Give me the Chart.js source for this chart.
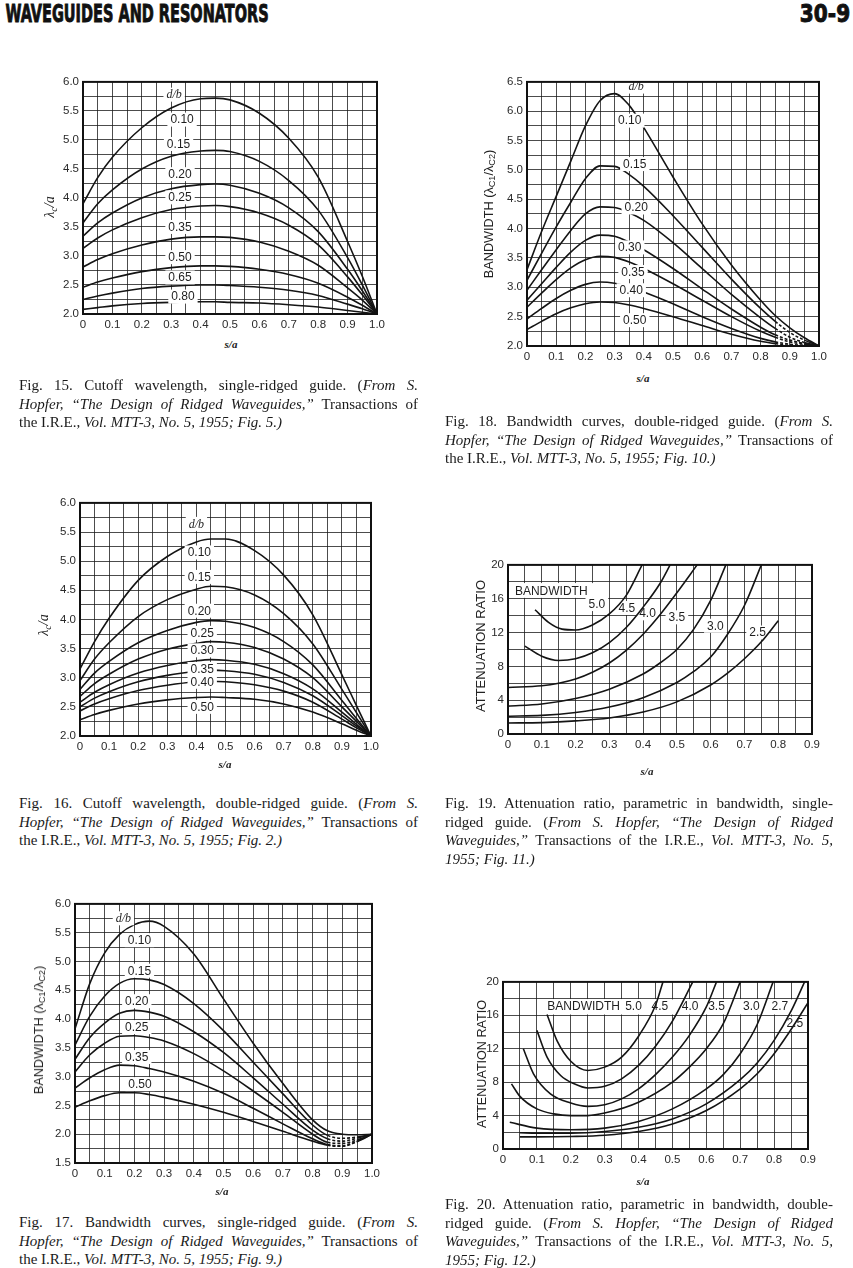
<!DOCTYPE html>
<html>
<head>
<meta charset="utf-8">
<title>Waveguides and resonators 30-9</title>
<script src="https://cdn.jsdelivr.net/npm/chart.js@4.4.1/dist/chart.umd.min.js"></script>
<style>
  html, body { margin: 0; padding: 0; background: #fff; }
  body { position: relative; width: 853px; height: 1268px; overflow: hidden; color: #1b1b1b; }
  canvas { position: absolute; }
  .t { position: absolute; left: 0; top: 0; white-space: nowrap; line-height: 1.2; }
  .hd { font: bold 25px "Liberation Sans Narrow", "DejaVu Sans Condensed", "Liberation Sans", sans-serif; -webkit-text-stroke: 0.9px #111; color: #111; }
  .yt { font: 12px "Liberation Sans", Arial, sans-serif; color: #222; }
  .lam { font: 14px "Liberation Serif", serif; color: #222; }
  .sa { font: italic bold 11px "Liberation Serif", serif; color: #222; }
  .cap { position: absolute; font: 15px/18.5px "Liberation Serif", "Times New Roman", serif; color: #1a1a1a; }
  .cap div { white-space: nowrap; }
  sub { font-size: 72%; vertical-align: -0.25em; line-height: 0; }
</style>
</head>
<body>
<div class="t hd" id="hdL">WAVEGUIDES AND RESONATORS</div>
<div class="t hd" id="hdR">30-9</div>

<canvas id="c15"></canvas>
<canvas id="c18"></canvas>
<canvas id="c16"></canvas>
<canvas id="c19"></canvas>
<canvas id="c17"></canvas>
<canvas id="c20"></canvas>

<div class="t lam" id="y15"><i>λ<sub>c</sub>/a</i></div>
<div class="t yt" id="y18">BANDWIDTH (λ<sub>C1</sub>/λ<sub>C2</sub>)</div>
<div class="t lam" id="y16"><i>λ<sub>c</sub>/a</i></div>
<div class="t yt" id="y19">ATTENUATION RATIO</div>
<div class="t yt" id="y17">BANDWIDTH (λ<sub>C1</sub>/λ<sub>C2</sub>)</div>
<div class="t yt" id="y20">ATTENUATION RATIO</div>
<div class="t sa" id="x15">s/a</div>
<div class="t sa" id="x18">s/a</div>
<div class="t sa" id="x16">s/a</div>
<div class="t sa" id="x19">s/a</div>
<div class="t sa" id="x17">s/a</div>
<div class="t sa" id="x20">s/a</div>

<div class="cap" style="left:19px;top:376px;width:399px">
  <div>Fig. 15. Cutoff wavelength, single-ridged guide. (<i>From S.</i></div>
  <div><i>Hopfer, “The Design of Ridged Waveguides,”</i> Transactions of</div>
  <div>the I.R.E., <i>Vol. MTT-3, No. 5, 1955; Fig. 5.)</i></div>
</div>
<div class="cap" style="left:445px;top:412px;width:388px">
  <div>Fig. 18. Bandwidth curves, double-ridged guide. (<i>From S.</i></div>
  <div><i>Hopfer, “The Design of Ridged Waveguides,”</i> Transactions of</div>
  <div>the I.R.E., <i>Vol. MTT-3, No. 5, 1955; Fig. 10.)</i></div>
</div>
<div class="cap" style="left:19px;top:794px;width:399px">
  <div>Fig. 16. Cutoff wavelength, double-ridged guide. (<i>From S.</i></div>
  <div><i>Hopfer, “The Design of Ridged Waveguides,”</i> Transactions of</div>
  <div>the I.R.E., <i>Vol. MTT-3, No. 5, 1955; Fig. 2.)</i></div>
</div>
<div class="cap" style="left:445px;top:794px;width:388px">
  <div>Fig. 19. Attenuation ratio, parametric in bandwidth, single-</div>
  <div>ridged guide. (<i>From S. Hopfer, “The Design of Ridged</i></div>
  <div><i>Waveguides,”</i> Transactions of the I.R.E., <i>Vol. MTT-3, No. 5,</i></div>
  <div><i>1955; Fig. 11.)</i></div>
</div>
<div class="cap" style="left:19px;top:1213px;width:399px">
  <div>Fig. 17. Bandwidth curves, single-ridged guide. (<i>From S.</i></div>
  <div><i>Hopfer, “The Design of Ridged Waveguides,”</i> Transactions of</div>
  <div>the I.R.E., <i>Vol. MTT-3, No. 5, 1955; Fig. 9.)</i></div>
</div>
<div class="cap" style="left:445px;top:1195px;width:388px">
  <div>Fig. 20. Attenuation ratio, parametric in bandwidth, double-</div>
  <div>ridged guide. (<i>From S. Hopfer, “The Design of Ridged</i></div>
  <div><i>Waveguides,”</i> Transactions of the I.R.E., <i>Vol. MTT-3, No. 5,</i></div>
  <div><i>1955; Fig. 12.)</i></div>
</div>

<script>
// ---------- data ----------
const sTicks10 = ['0', '0.1', '0.2', '0.3', '0.4', '0.5', '0.6', '0.7', '0.8', '0.9', '1.0'];
const sTicks9 = ['0', '0.1', '0.2', '0.3', '0.4', '0.5', '0.6', '0.7', '0.8', '0.9'];
const attTicks = ['0', '4', '8', '12', '16', '20'];

// Fig. 15: cutoff wavelength, single-ridged
const fig15X = [0, 0.05, 0.1, 0.2, 0.3, 0.4, 0.45, 0.5, 0.6, 0.7, 0.8, 0.9, 0.95, 1.0];
const fig15DB = ['0.10', '0.15', '0.20', '0.25', '0.35', '0.50', '0.65', '0.80'];
const fig15Y = [
  [3.90, 4.35, 4.70, 5.21, 5.55, 5.71, 5.72, 5.69, 5.46, 5.03, 4.36, 3.25, 2.65, 2.00],
  [3.57, 3.90, 4.14, 4.50, 4.72, 4.81, 4.82, 4.80, 4.63, 4.30, 3.79, 2.97, 2.50, 2.00],
  [3.34, 3.57, 3.74, 4.00, 4.16, 4.23, 4.24, 4.22, 4.08, 3.83, 3.42, 2.77, 2.40, 2.00],
  [3.13, 3.31, 3.45, 3.66, 3.80, 3.86, 3.87, 3.85, 3.74, 3.53, 3.19, 2.64, 2.33, 2.00],
  [2.81, 2.94, 3.04, 3.19, 3.29, 3.33, 3.33, 3.32, 3.24, 3.08, 2.84, 2.45, 2.24, 2.00],
  [2.46, 2.55, 2.62, 2.73, 2.80, 2.83, 2.83, 2.82, 2.77, 2.68, 2.53, 2.29, 2.15, 2.00],
  [2.25, 2.31, 2.36, 2.44, 2.48, 2.50, 2.50, 2.49, 2.46, 2.41, 2.32, 2.17, 2.09, 2.00],
  [2.08, 2.11, 2.14, 2.18, 2.20, 2.21, 2.21, 2.20, 2.19, 2.16, 2.12, 2.06, 2.03, 2.00]
];

// Fig. 18: bandwidth, double-ridged
const fig18X = [0, 0.05, 0.1, 0.15, 0.2, 0.25, 0.3, 0.35, 0.4, 0.5, 0.6, 0.7, 0.8, 0.85, 0.9, 0.95, 1.0];
const fig18DB = ['0.10', '0.15', '0.20', '0.30', '0.35', '0.40', '0.50'];
const fig18Y = [
  [3.30, 3.95, 4.55, 5.15, 5.75, 6.18, 6.30, 6.10, 5.72, 4.88, 4.08, 3.38, 2.78, 2.52, 2.31, 2.14, 2.00],
  [3.12, 3.58, 4.03, 4.45, 4.85, 5.07, 5.06, 4.92, 4.72, 4.22, 3.68, 3.14, 2.64, 2.42, 2.23, 2.10, 2.00],
  [2.95, 3.30, 3.64, 3.97, 4.25, 4.37, 4.36, 4.27, 4.14, 3.76, 3.32, 2.88, 2.48, 2.30, 2.15, 2.06, 2.00],
  [2.78, 3.06, 3.34, 3.60, 3.80, 3.89, 3.87, 3.77, 3.64, 3.32, 2.97, 2.63, 2.32, 2.19, 2.10, 2.04, 2.00],
  [2.66, 2.90, 3.13, 3.33, 3.47, 3.53, 3.51, 3.43, 3.32, 3.06, 2.78, 2.50, 2.25, 2.15, 2.07, 2.03, 2.00],
  [2.46, 2.64, 2.81, 2.95, 3.05, 3.09, 3.07, 3.01, 2.92, 2.72, 2.50, 2.30, 2.13, 2.07, 2.03, 2.01, 2.00],
  [2.28, 2.42, 2.55, 2.65, 2.72, 2.75, 2.74, 2.70, 2.64, 2.50, 2.35, 2.20, 2.08, 2.04, 2.01, 2.00, 2.00]
];

// Fig. 16: cutoff wavelength, double-ridged
const fig16X = [0, 0.05, 0.1, 0.2, 0.3, 0.4, 0.45, 0.5, 0.6, 0.7, 0.8, 0.9, 0.95, 1.0];
const fig16DB = ['0.10', '0.15', '0.20', '0.25', '0.30', '0.35', '0.40', '0.50'];
const fig16Y = [
  [3.15, 3.62, 4.02, 4.67, 5.08, 5.33, 5.38, 5.38, 5.18, 4.76, 4.08, 3.05, 2.52, 2.00],
  [2.95, 3.32, 3.60, 4.05, 4.34, 4.52, 4.57, 4.56, 4.42, 4.10, 3.58, 2.80, 2.40, 2.00],
  [2.80, 3.08, 3.28, 3.60, 3.81, 3.95, 3.98, 3.97, 3.86, 3.62, 3.22, 2.61, 2.30, 2.00],
  [2.68, 2.90, 3.06, 3.32, 3.49, 3.59, 3.62, 3.61, 3.52, 3.32, 3.00, 2.50, 2.25, 2.00],
  [2.58, 2.75, 2.88, 3.08, 3.21, 3.29, 3.31, 3.30, 3.23, 3.07, 2.81, 2.41, 2.20, 2.00],
  [2.50, 2.65, 2.76, 2.93, 3.04, 3.11, 3.13, 3.12, 3.06, 2.92, 2.69, 2.35, 2.17, 2.00],
  [2.43, 2.55, 2.64, 2.78, 2.87, 2.93, 2.94, 2.93, 2.88, 2.77, 2.58, 2.29, 2.14, 2.00],
  [2.28, 2.37, 2.44, 2.55, 2.62, 2.66, 2.67, 2.66, 2.63, 2.55, 2.41, 2.21, 2.10, 2.00]
];

// Fig. 19: attenuation ratio vs s/a, single-ridged (one curve per bandwidth)
const fig19BW = ['5.0', '4.5', '4.0', '3.5', '3.0', '2.5'];
const fig19X = [
  [0.08, 0.12, 0.16, 0.2, 0.25, 0.3, 0.35, 0.397],
  [0.05, 0.1, 0.15, 0.2, 0.25, 0.3, 0.35, 0.4, 0.45, 0.48],
  [0, 0.1, 0.15, 0.2, 0.25, 0.3, 0.35, 0.4, 0.45, 0.5, 0.56],
  [0, 0.1, 0.2, 0.3, 0.4, 0.45, 0.5, 0.55, 0.6, 0.645],
  [0, 0.1, 0.2, 0.3, 0.4, 0.5, 0.55, 0.6, 0.65, 0.7, 0.75],
  [0, 0.1, 0.2, 0.3, 0.4, 0.5, 0.6, 0.65, 0.7, 0.75, 0.8]
];
const fig19Y = [
  [14.7, 13.2, 12.4, 12.3, 12.9, 14.2, 16.4, 20.0],
  [10.4, 9.2, 8.7, 8.9, 9.6, 10.8, 12.6, 15.0, 17.8, 20.0],
  [5.5, 5.7, 6.0, 6.5, 7.3, 8.4, 9.9, 11.8, 14.1, 16.7, 20.0],
  [3.3, 3.55, 4.2, 5.3, 7.1, 8.4, 10.0, 12.4, 15.8, 20.0],
  [2.1, 2.2, 2.55, 3.2, 4.3, 6.1, 7.4, 9.1, 11.8, 15.2, 20.0],
  [1.3, 1.35, 1.55, 1.9, 2.6, 3.8, 5.8, 7.2, 8.9, 10.9, 13.4]
];

// Fig. 17: bandwidth, single-ridged
const fig17X = [0, 0.05, 0.1, 0.15, 0.2, 0.25, 0.3, 0.4, 0.5, 0.6, 0.7, 0.8, 0.85, 0.9, 0.95, 1.0];
const fig17DB = ['0.10', '0.15', '0.20', '0.25', '0.35', '0.50'];
const fig17Y = [
  [3.83, 4.62, 5.15, 5.47, 5.64, 5.70, 5.61, 5.13, 4.35, 3.58, 2.88, 2.25, 2.06, 2.00, 1.99, 2.00],
  [3.55, 4.05, 4.40, 4.62, 4.70, 4.68, 4.60, 4.27, 3.80, 3.25, 2.70, 2.16, 1.98, 1.93, 1.95, 2.00],
  [3.30, 3.68, 3.93, 4.10, 4.15, 4.12, 4.05, 3.78, 3.42, 2.98, 2.52, 2.07, 1.92, 1.88, 1.93, 2.00],
  [3.08, 3.38, 3.58, 3.70, 3.71, 3.68, 3.62, 3.40, 3.10, 2.75, 2.38, 2.00, 1.86, 1.84, 1.90, 2.00],
  [2.80, 2.98, 3.12, 3.20, 3.19, 3.14, 3.08, 2.92, 2.71, 2.45, 2.18, 1.92, 1.82, 1.80, 1.88, 2.00],
  [2.47, 2.58, 2.67, 2.72, 2.72, 2.69, 2.64, 2.52, 2.38, 2.22, 2.05, 1.88, 1.81, 1.79, 1.87, 2.00]
];

// Fig. 20: attenuation ratio vs s/a, double-ridged
const fig20BW = ['5.0', '4.5', '4.0', '3.5', '3.0', '2.7', '2.5'];
const fig20X = [
  [0.13, 0.16, 0.2, 0.25, 0.3, 0.35, 0.4, 0.45, 0.472],
  [0.1, 0.13, 0.17, 0.21, 0.25, 0.3, 0.35, 0.4, 0.45, 0.5, 0.56],
  [0.06, 0.09, 0.14, 0.2, 0.25, 0.3, 0.35, 0.4, 0.45, 0.5, 0.55, 0.6, 0.63],
  [0.025, 0.05, 0.1, 0.15, 0.2, 0.25, 0.3, 0.4, 0.5, 0.55, 0.6, 0.65, 0.7],
  [0.02, 0.1, 0.2, 0.3, 0.4, 0.5, 0.6, 0.65, 0.7, 0.75, 0.797],
  [0.05, 0.1, 0.2, 0.3, 0.4, 0.5, 0.6, 0.7, 0.75, 0.8, 0.85, 0.89],
  [0.05, 0.1, 0.2, 0.3, 0.4, 0.5, 0.6, 0.7, 0.75, 0.8, 0.85, 0.9]
];
const fig20Y = [
  [16.1, 12.9, 10.5, 9.4, 9.8, 11.0, 13.5, 17.2, 20.0],
  [14.2, 11.0, 8.8, 7.8, 7.3, 7.5, 8.4, 10.0, 12.3, 15.3, 20.0],
  [12.0, 9.0, 6.6, 5.5, 5.1, 5.3, 6.0, 7.2, 8.9, 11.0, 13.6, 17.0, 20.0],
  [7.8, 6.3, 4.8, 4.2, 4.0, 4.0, 4.3, 5.6, 8.0, 9.8, 12.0, 15.0, 20.0],
  [3.2, 2.5, 2.3, 2.5, 3.3, 4.8, 7.2, 8.9, 11.4, 14.9, 20.0],
  [1.95, 1.9, 1.9, 2.1, 2.6, 3.6, 5.4, 8.3, 10.3, 13.0, 16.5, 20.0],
  [1.45, 1.45, 1.5, 1.65, 2.1, 3.0, 4.6, 7.2, 9.0, 11.4, 14.3, 17.5]
];

// ---------- layout ----------
// plot boxes on the page: [left, top, right, bottom]
const box15 = [83, 81, 377, 314];
const box18 = [527, 81, 819, 346];
const box16 = [80, 502, 371, 736];
const box19 = [508, 564, 812, 734];
const box17 = [75, 903, 372, 1163];
const box20 = [503, 981, 808, 1149];

const tagAt15 = [[0.337, 5.35], [0.325, 4.93], [0.33, 4.41], [0.33, 4.01], [0.33, 3.50], [0.33, 2.98], [0.33, 2.63], [0.34, 2.30]];
const tagAt18 = [[0.352, 5.84], [0.369, 5.10], [0.374, 4.36], [0.352, 3.68], [0.363, 3.26], [0.357, 2.95], [0.369, 2.44]];
const tagAt16 = [[0.41, 5.15], [0.41, 4.73], [0.41, 4.15], [0.42, 3.77], [0.42, 3.47], [0.42, 3.15], [0.42, 2.93], [0.42, 2.50]];
const tagAt17 = [[0.217, 5.37], [0.217, 4.84], [0.208, 4.31], [0.208, 3.86], [0.208, 3.34], [0.219, 2.87]];
const tagAt19 = [[0.263, 15.37], [0.352, 14.9], [0.413, 14.27], [0.50, 13.8], [0.614, 12.8], [0.739, 12.0]];
const tagAt20 = [[0.385, 17.1], [0.463, 17.1], [0.552, 17.1], [0.63, 17.1], [0.733, 17.1], [0.817, 17.1], [0.861, 15.0]];

const FONT = '"Liberation Sans", Arial, sans-serif';
const INK = '#141414';

function drawTags(chart, list) {
  const { ctx, scales: { x, y } } = chart;
  ctx.save();
  ctx.textAlign = 'center';
  ctx.textBaseline = 'middle';
  list.forEach(g => {
    ctx.font = g.it ? 'italic 12px "Liberation Serif", serif' : '12px ' + FONT;
    const px = x.getPixelForValue(g.x), py = y.getPixelForValue(g.y);
    const w = ctx.measureText(g.t).width;
    ctx.fillStyle = '#fff';
    ctx.fillRect(px - w / 2 - 3, py - 7, w + 6, 14);
    ctx.fillStyle = '#1e1e1e';
    ctx.fillText(g.t, px, py + 0.5);
  });
  ctx.restore();
}

// white label areas, curve tags and the heavy frame
function decor(opt) {
  return {
    id: 'decor',
    beforeDatasetsDraw(chart) {
      const { ctx, scales: { x, y } } = chart;
      ctx.save();
      ctx.fillStyle = '#fff';
      (opt.bands || []).forEach(b => {
        const x0 = x.getPixelForValue(b[0]), x1 = x.getPixelForValue(b[1]);
        const y0 = y.getPixelForValue(b[3]), y1 = y.getPixelForValue(b[2]);
        ctx.fillRect(x0, y0, x1 - x0, y1 - y0);
      });
      ctx.restore();
      if (opt.under) drawTags(chart, opt.tags);
    },
    afterDatasetsDraw(chart) {
      if (!opt.under) drawTags(chart, opt.tags);
      const { ctx, chartArea: a } = chart;
      ctx.save();
      ctx.strokeStyle = '#111';
      ctx.lineWidth = 2;
      ctx.strokeRect(a.left, a.top, a.right - a.left, a.bottom - a.top);
      ctx.restore();
    }
  };
}

function tags(names, pos, head) {
  const out = names.map((t, i) => ({ t, x: pos[i][0], y: pos[i][1] }));
  if (head) out.push(head);
  return out;
}

function curves(xs, ys, dash) {
  const perCurve = Array.isArray(xs[0]);
  return ys.map((col, k) => ({
    data: col.map((v, i) => ({ x: perCurve ? xs[k][i] : xs[i], y: v })),
    borderColor: INK,
    borderWidth: 1.6,
    pointRadius: 0,
    fill: false,
    cubicInterpolationMode: 'monotone',
    segment: {
      borderDash: c => (dash && k > 0 && c.p0.parsed.x >= dash[0] - 1e-9 && c.p1.parsed.x <= dash[1] + 1e-9) ? [3, 2] : undefined
    }
  }));
}

const near = (v, m) => Math.abs(v / m - Math.round(v / m)) < 1e-6;
const sFmt = list => v => near(v, 0.1) ? (list[Math.round(v * 10)] || '') : '';
const lamFmt = v => near(v, 0.5) ? v.toFixed(1) : '';
const attFmt = v => near(v, 4) ? attTicks[Math.round(v / 4)] : '';

function axis(min, max, step, fmt, fit) {
  return {
    type: 'linear', min, max,
    ticks: { stepSize: step, autoSkip: false, maxRotation: 0, padding: 4, color: '#2a2a2a', font: { family: FONT, size: 11.5 }, callback: fmt },
    grid: { color: 'rgba(25,25,25,0.78)', lineWidth: 1, drawTicks: false },
    border: { color: '#111', width: 2 },
    afterFit: fit
  };
}

function makeChart(id, box, xs, ys, datasets, deco) {
  const padL = 44, padR = 16, padT = 10, padB = 24;
  const cv = document.getElementById(id);
  cv.width = box[2] - box[0] + padL + padR;
  cv.height = box[3] - box[1] + padT + padB;
  cv.style.left = (box[0] - padL) + 'px';
  cv.style.top = (box[1] - padT) + 'px';
  return new Chart(cv, {
    type: 'line',
    data: { datasets },
    options: {
      responsive: false,
      animation: false,
      layout: { padding: { top: padT, right: padR, left: 0, bottom: 0 } },
      plugins: { legend: { display: false }, tooltip: { enabled: false } },
      scales: {
        x: axis(xs[0], xs[1], xs[2], xs[3], s => { s.height = padB; }),
        y: axis(ys[0], ys[1], ys[2], ys[3], s => { s.width = padL; })
      }
    },
    plugins: [decor(deco)]
  });
}

makeChart('c15', box15, [0, 1, 0.05, sFmt(sTicks10)], [2, 6, 0.25, lamFmt],
  curves(fig15X, fig15Y),
  { tags: tags(fig15DB, tagAt15, { t: 'd/b', x: 0.31, y: 5.78, it: true }) });

makeChart('c18', box18, [0, 1, 0.05, sFmt(sTicks10)], [2, 6.5, 0.25, lamFmt],
  curves(fig18X, fig18Y, [0.85, 0.95]),
  { tags: tags(fig18DB, tagAt18, { t: 'd/b', x: 0.374, y: 6.42, it: true }) });

makeChart('c16', box16, [0, 1, 0.05, sFmt(sTicks10)], [2, 6, 0.25, lamFmt],
  curves(fig16X, fig16Y),
  { tags: tags(fig16DB, tagAt16, { t: 'd/b', x: 0.40, y: 5.64, it: true }) });

makeChart('c19', box19, [0, 0.9, 0.05, sFmt(sTicks9)], [0, 20, 2, attFmt],
  curves(fig19X, fig19Y),
  { under: true, bands: [[0, 0.254, 16.15, 17.85]],
    tags: tags(fig19BW, tagAt19, { t: 'BANDWIDTH', x: 0.128, y: 16.94 }) });

makeChart('c17', box17, [0, 1, 0.05, sFmt(sTicks10)], [1.5, 6, 0.25, lamFmt],
  curves(fig17X, fig17Y, [0.85, 0.95]),
  { tags: tags(fig17DB, tagAt17, { t: 'd/b', x: 0.163, y: 5.75, it: true }) });

makeChart('c20', box20, [0, 0.9, 0.05, sFmt(sTicks9)], [0, 20, 2, attFmt],
  curves(fig20X, fig20Y),
  { under: true, bands: [[0.115, 0.885, 16.1, 17.9], [0.825, 0.897, 14.2, 15.8]],
    tags: tags(fig20BW, tagAt20, { t: 'BANDWIDTH', x: 0.238, y: 17.1 }) });

// ---------- html text placement ----------
function place(id, cx, cy, w, rot) {
  const el = document.getElementById(id);
  const k = w ? w / el.offsetWidth : 1;
  el.style.left = cx + 'px';
  el.style.top = cy + 'px';
  el.style.transform = 'translate(-50%,-50%)' + (rot ? ' rotate(-90deg)' : '') + ' scaleX(' + k + ')';
}
place('hdL', 136.5, 12.5, 263);
place('hdR', 825, 12.5, 50);
place('y15', 50, 207, 0, true);
place('y16', 44, 625, 0, true);
place('y18', 489, 214, 128, true);
place('y17', 39, 1030, 128, true);
place('y19', 481, 646, 132, true);
place('y20', 482, 1064, 128, true);
place('x15', 231, 344);
place('x18', 643, 378);
place('x16', 225, 764);
place('x19', 647, 771);
place('x17', 222, 1191);
place('x20', 643, 1181);

// justify each caption line except the last one of a block
document.querySelectorAll('.cap').forEach(cap => {
  const W = cap.clientWidth;
  const lines = Array.from(cap.children);
  lines.forEach((ln, i) => {
    const r = document.createRange();
    r.selectNodeContents(ln);
    const w = r.getBoundingClientRect().width;
    const gaps = (ln.textContent.trim().match(/ +/g) || []).length;
    if (i < lines.length - 1 && gaps) {
      ln.style.wordSpacing = ((W - w) / gaps) + 'px';
    } else if (w > W) {
      ln.style.letterSpacing = ((W - w) / ln.textContent.length) + 'px';
    }
  });
});
</script>
</body>
</html>
